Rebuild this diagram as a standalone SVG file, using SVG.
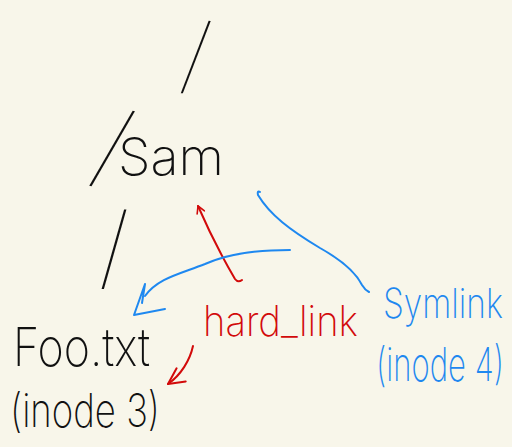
<svg xmlns="http://www.w3.org/2000/svg" width="512" height="447" viewBox="0 0 512 447">
  <style>
    .ink { fill: none; stroke-width: 2; stroke-linecap: round; stroke-linejoin: round; }
    .k { stroke: #111111; }
    .r { stroke: #d20a0a; }
    .b { stroke: #1e88f0; }
    .lbl { font-family: "Inter", "Noto Sans", "Liberation Sans", sans-serif; font-weight: 200; }
    .slash { font-family: "Inter", "Noto Sans", "Liberation Sans", sans-serif; font-weight: 100; font-size: 96px; fill: #111111; text-anchor: middle; dominant-baseline: central; }
    .tk { fill: #111111; }
    .tr { fill: #d20a0a; }
    .tb { fill: #1e88f0; }
  </style>
  <defs>
    <marker id="redV" viewBox="0 0 20 20" refX="18" refY="10" markerWidth="20" markerHeight="20" markerUnits="userSpaceOnUse" orient="auto">
      <path d="M2,2 L18,10 L2,18" fill="none" stroke="#d20a0a" stroke-width="2" stroke-linecap="round" stroke-linejoin="round"/>
    </marker>
    <marker id="redTick" viewBox="0 0 10 10" refX="9" refY="5" markerWidth="10" markerHeight="10" markerUnits="userSpaceOnUse" orient="auto">
      <path d="M2,1 L9,5 L2,9" fill="none" stroke="#d20a0a" stroke-width="1.6" stroke-linecap="round" stroke-linejoin="round"/>
    </marker>
  </defs>

  <rect width="512" height="447" fill="#f8f6ea"/>

  <!-- path segments of /Sam/Foo.txt -->
  <g id="root">
    <text class="slash" style="font-size:86px" transform="translate(196,54) rotate(6)">/</text>
  </g>
  <g id="sam">
    <text class="slash" transform="translate(113,145) rotate(15)">/</text>
    <text class="lbl tk" x="118" y="175" font-size="51" textLength="106" lengthAdjust="spacingAndGlyphs">Sam</text>
  </g>
  <g id="separator">
    <text class="slash" transform="translate(114,246) scale(1,0.95)">/</text>
  </g>
  <g id="foo">
    <text class="lbl tk" transform="translate(13,366) scale(1,1.2)" font-size="44" textLength="137" lengthAdjust="spacingAndGlyphs">Foo.txt</text>
    <text class="lbl tk" transform="translate(10,427) scale(1,1.25)" font-size="37" textLength="150" lengthAdjust="spacingAndGlyphs">(inode 3)</text>
  </g>
  <g id="hardlink">
    <text class="lbl tr" transform="translate(203,336) scale(1,1.1)" font-size="38" textLength="155" lengthAdjust="spacingAndGlyphs">hard_link</text>
  </g>
  <g id="symlink">
    <text class="lbl tb" transform="translate(383,318) scale(1,1.25)" font-size="33" textLength="120" lengthAdjust="spacingAndGlyphs">Symlink</text>
    <text class="lbl tb" transform="translate(376,381) scale(1,1.45)" font-size="32" textLength="128" lengthAdjust="spacingAndGlyphs">(inode 4)</text>
  </g>

  <g id="connectors">
    <!-- hard link: entry in /Sam and its pointer to the inode -->
    <path class="ink r" d="M242,280 Q238,283 235,279 C225,262 212,238 198,206" marker-end="url(#redTick)"/>
    <path class="ink r" d="M193,346 C190,360 181,375 168,384" marker-end="url(#redV)"/>
    <!-- symlink: entry in /Sam and its pointer to the path -->
    <path class="ink b" d="M260,192 Q257,190 258,195 C270,215 290,230 320,248 C345,262 357,275 362,285 Q365,290 369,292"/>
    <path class="ink b" d="M290,250 C250,250 225,255 205,264 C180,274 158,278 145,296"/>
    <path class="ink b" d="M145,284 L142,303 M145,284 L134,315 L165,309"/>
  </g>
</svg>
